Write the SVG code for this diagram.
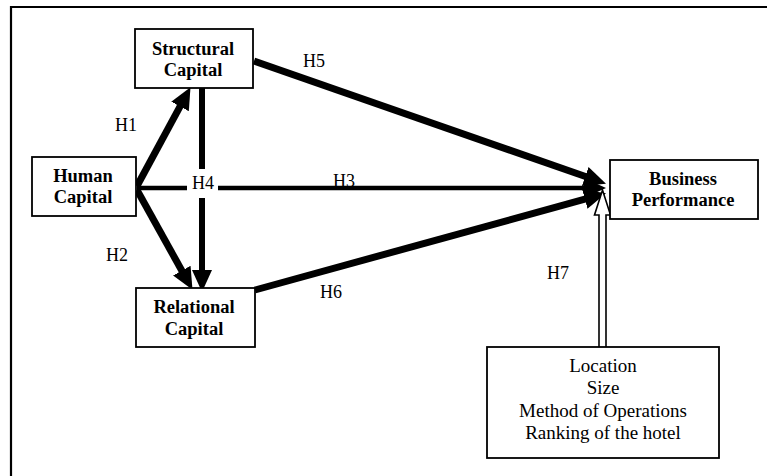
<svg xmlns="http://www.w3.org/2000/svg" width="767" height="476" viewBox="0 0 767 476">
<style>
.box{fill:#fff;stroke:#000;stroke-width:1.8}
.nl{font-family:"Liberation Serif",serif;font-weight:bold;font-size:18.5px;text-anchor:middle;fill:#000}
.rl{font-family:"Liberation Serif",serif;font-size:19px;text-anchor:middle;fill:#000}
.hl{font-family:"Liberation Serif",serif;font-size:18px;fill:#000}
.ln{stroke:#000;fill:none;stroke-linecap:butt}
</style>
<defs>
<marker id="ah" viewBox="0 0 22 20" refX="1" refY="10" markerWidth="22" markerHeight="20" markerUnits="userSpaceOnUse" orient="auto">
<path d="M0,0 L22,10 L0,20 z" fill="#000"/>
</marker>
</defs>
<rect width="767" height="476" fill="#fff"/>
<path d="M11,476 L11,7 L767,7" fill="none" stroke="#000" stroke-width="2.2"/>
<g id="connectors">
<line class="ln" x1="137" y1="186" x2="180.5" y2="105.6" stroke-width="7" marker-end="url(#ah)"/>
<line class="ln" x1="137" y1="190" x2="182.3" y2="271.5" stroke-width="7" marker-end="url(#ah)"/>
<line class="ln" x1="202" y1="88" x2="202" y2="169" stroke-width="6"/>
<line class="ln" x1="202" y1="198" x2="202" y2="271" stroke-width="6" marker-end="url(#ah)"/>
<line class="ln" x1="137" y1="188" x2="187" y2="188" stroke-width="4.5"/>
<line class="ln" x1="218" y1="188" x2="585" y2="188" stroke-width="4.5" marker-end="url(#ah)"/>
<line class="ln" x1="254" y1="61" x2="586.2" y2="176.8" stroke-width="7" marker-end="url(#ah)"/>
<line class="ln" x1="255" y1="290" x2="585.8" y2="198.9" stroke-width="7" marker-end="url(#ah)"/>
<path d="M599,347 L599,215 L594.5,215 L602.5,190 L610.5,215 L606,215 L606,347" fill="#fff" stroke="#000" stroke-width="1.6"/>
<text class="hl" x="115" y="131">H1</text>
<text class="hl" x="106" y="261">H2</text>
<text class="hl" x="333" y="187">H3</text>
<text class="hl" x="192" y="189">H4</text>
<text class="hl" x="303" y="67">H5</text>
<text class="hl" x="320" y="298">H6</text>
<text class="hl" x="547" y="279">H7</text>
</g>
<g id="structural">
<rect class="box" x="135" y="29" width="118" height="59"/>
<text class="nl" x="193" y="55">Structural</text>
<text class="nl" x="193" y="76">Capital</text>
</g>
<g id="human">
<rect class="box" x="32" y="157" width="104" height="59"/>
<text class="nl" x="83" y="182">Human</text>
<text class="nl" x="83" y="203">Capital</text>
</g>
<g id="relational">
<rect class="box" x="136" y="288" width="119" height="59"/>
<text class="nl" x="194" y="313">Relational</text>
<text class="nl" x="194" y="335">Capital</text>
</g>
<g id="business">
<rect class="box" x="610" y="160" width="148" height="59"/>
<text class="nl" x="683" y="185">Business</text>
<text class="nl" x="683" y="206">Performance</text>
</g>
<g id="controls">
<rect class="box" x="487" y="347" width="232" height="111"/>
<text class="rl" x="603" y="372">Location</text>
<text class="rl" x="603" y="394">Size</text>
<text class="rl" x="603" y="417">Method of Operations</text>
<text class="rl" x="603" y="439">Ranking of the hotel</text>
</g>
</svg>
